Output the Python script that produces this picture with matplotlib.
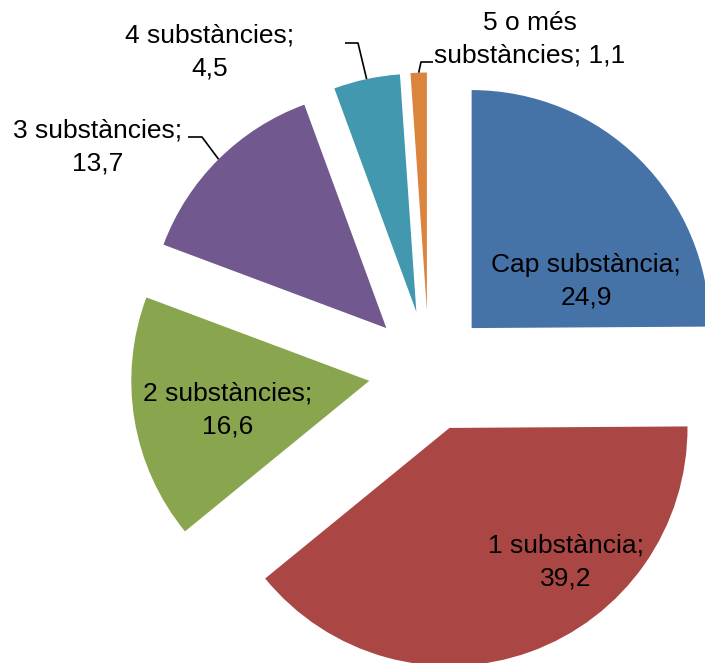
import numpy as np
import matplotlib
matplotlib.use("Agg")
import matplotlib.pyplot as plt

categories = ["Cap substància", "1 substància", "2 substàncies",
              "3 substàncies", "4 substàncies", "5 o més substàncies"]
values = [24.9, 39.2, 16.6, 13.7, 4.5, 1.1]
label_texts = ["Cap substància;\n24,9", "1 substància;\n39,2", "2 substàncies;\n16,6",
               "3 substàncies;\n13,7", "4 substàncies;\n4,5", "5 o més\nsubstàncies; 1,1"]
colors = ["#4572A7", "#AA4643", "#89A54E", "#71588F", "#4198AF", "#DB843D"]

plt.rcParams['font.family'] = ['Liberation Sans', 'DejaVu Sans']

W, H = 705, 663
fig = plt.figure(figsize=(W / 100, H / 100), dpi=100)
ax = fig.add_axes([0, 0, 1, 1])

R_PX = 238.0
CX, CY = 429.0, 371.0   # pie centre in pixels (from top-left)
EXPLODE = 60.5 / R_PX

wedges, _ = ax.pie(values, colors=colors, startangle=90, counterclock=False,
                   explode=[EXPLODE] * len(values), radius=1.0,
                   wedgeprops=dict(linewidth=0))

ax.set_xlim(-CX / R_PX, (W - CX) / R_PX)
ax.set_ylim(-(H - CY) / R_PX, CY / R_PX)
ax.set_aspect('equal')
ax.axis('off')

def px(x, y):
    return ((x - CX) / R_PX, (CY - y) / R_PX)

# label centres (pixel layout)
label_pos_px = [(586, 281), (566, 562), (228, 410), (98, 147), (210, 52), (530, 39)]
for txt, (lx, ly) in zip(label_texts, label_pos_px):
    x, y = px(lx, ly)
    ax.text(x, y, txt, ha='center', va='center', fontsize=19,
            linespacing=1.45, color='black')

# leader lines: from text elbow to wedge mid-arc
def arc_mid(i):
    w = wedges[i]
    a = np.deg2rad((w.theta1 + w.theta2) / 2)
    cx, cy = w.center
    return cx + w.r * np.cos(a), cy + w.r * np.sin(a)

leaders = {3: [(188, 137), (202, 137)],
           4: [(345, 43), (358, 43)],
           5: [(433, 62), (421, 62)]}
for i, pts in leaders.items():
    p = [px(*q) for q in pts]
    ex, ey = arc_mid(i)
    xs = [q[0] for q in p] + [ex]
    ys = [q[1] for q in p] + [ey]
    ax.plot(xs, ys, color='black', linewidth=1.2, solid_capstyle='butt')

fig.savefig("out.png", dpi=100)
